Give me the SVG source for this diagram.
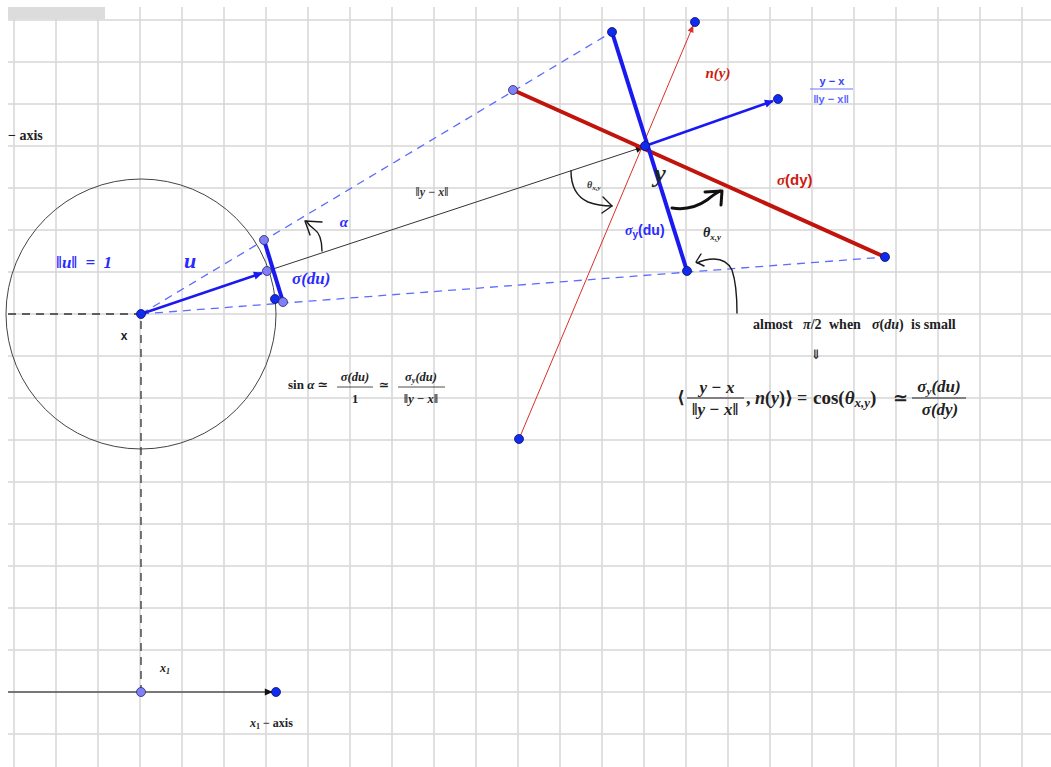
<svg xmlns="http://www.w3.org/2000/svg" width="1051" height="767" viewBox="0 0 1051 767">
<style>
.grid{stroke:#d6d6d6;stroke-width:1.5;fill:none}
.serif{font-family:"Liberation Serif","DejaVu Serif",serif;font-weight:bold}
.sans{font-family:"Liberation Sans","DejaVu Sans",sans-serif;font-weight:bold}
.it{font-style:italic}
.blue{fill:#2a2aff}
.red{fill:#cc1a10}
.blk{fill:#222}
.hand{fill:none;stroke:#1a1a1a;stroke-width:1.4;stroke-linecap:round;stroke-linejoin:round}
.dashb{stroke:#5c6cff;stroke-width:1.3;stroke-dasharray:8 6;fill:none}
.dashk{stroke:#333;stroke-width:1.3;stroke-dasharray:8 6;fill:none}
.ptd{fill:#0f2bf0;stroke:#101060;stroke-width:0.8}
.ptl{fill:#7f80f8;stroke:#2a2a60;stroke-width:0.8}
</style>
<defs>
<marker id="ab" viewBox="0 0 10 10" refX="9" refY="5" markerWidth="12" markerHeight="9" orient="auto" markerUnits="userSpaceOnUse"><path d="M0,0.5 L10,5 L0,9.5 z" fill="#1a1af0"/></marker>
<marker id="ak" viewBox="0 0 10 10" refX="9" refY="5" markerWidth="11" markerHeight="8" orient="auto" markerUnits="userSpaceOnUse"><path d="M0,0.5 L10,5 L0,9.5 z" fill="#111"/></marker>
<marker id="ar" viewBox="0 0 10 10" refX="9" refY="5" markerWidth="10" markerHeight="7" orient="auto" markerUnits="userSpaceOnUse"><path d="M0,0.5 L10,5 L0,9.5 z" fill="#d9302a"/></marker>
</defs>
<rect width="1051" height="767" fill="#fff"/>
<g id="grid">
<path class="grid" d="M14,7V767M56,7V767M98,7V767M140,7V767M182,7V767M224,7V767M266,7V767M308,7V767M350,7V767M392,7V767M434,7V767M476,7V767M518,7V767M560,7V767M602,7V767M644,7V767M686,7V767M728,7V767M770,7V767M812,7V767M854,7V767M896,7V767M938,7V767M980,7V767M1022,7V767"/>
<path class="grid" d="M8,20H1051M8,62H1051M8,104H1051M8,146H1051M8,188H1051M8,230H1051M8,272H1051M8,314H1051M8,356H1051M8,398H1051M8,440H1051M8,482H1051M8,524H1051M8,566H1051M8,608H1051M8,650H1051M8,692H1051M8,734H1051"/>
<rect x="8" y="7" width="97" height="12" fill="#dcdcdc"/>
</g>

<g id="connectors">
<circle cx="141" cy="314" r="135" fill="none" stroke="#444" stroke-width="1"/>
<path class="dashk" d="M8,314H141V692"/>
<path class="dashb" d="M141,314L612,32"/>
<path class="dashb" d="M141,314L885,257"/>
<line x1="267" y1="271" x2="643" y2="147" stroke="#333" stroke-width="1" marker-end="url(#ak)"/>
<line x1="141" y1="314" x2="262" y2="273" stroke="#1a1af0" stroke-width="2.6" marker-end="url(#ab)"/>
<line x1="264" y1="240" x2="283" y2="302" stroke="#1a1af0" stroke-width="4"/>
<line x1="519" y1="439" x2="693" y2="26" stroke="#d9302a" stroke-width="1" marker-end="url(#ar)"/>
<line x1="513" y1="90" x2="885" y2="257" stroke="#c0140c" stroke-width="4"/>
<line x1="612" y1="32" x2="687" y2="271" stroke="#1a1af0" stroke-width="4"/>
<line x1="645" y1="146" x2="773" y2="101" stroke="#1a1af0" stroke-width="2.6" marker-end="url(#ab)"/>
<line x1="8" y1="692" x2="272" y2="692" stroke="#111" stroke-width="1.2" marker-end="url(#ak)"/>
<path class="hand" d="M322,251C322,240 320,233 314,229C311,227 309,225 306,221"/>
<path class="hand" d="M310,235L305,221L322,222"/>
<path class="hand" d="M571,171C571,185 575,196 588,202C596,205 604,206 612,206"/>
<path class="hand" d="M603,197L612,206L602,213"/>
<path d="M672,208C685,210 697,207 707,200C712,196 716,193 720,191" fill="none" stroke="#111" stroke-width="3" stroke-linecap="round"/>
<path d="M705,192L722,191L721,205" fill="none" stroke="#111" stroke-width="3" stroke-linecap="round" stroke-linejoin="round"/>
<path class="hand" d="M737,313C737,298 736,282 732,270C728,262 722,259 714,259C707,259 701,261 697,263"/>
<path class="hand" d="M701,254L696,262L704,266"/>
</g>

<g id="node-x"><circle class="ptd" cx="141" cy="314" r="4.5"/><text class="sans blk" x="124" y="340" font-size="12" text-anchor="middle">x</text></g>
<g id="node-p1"><circle class="ptl" cx="264" cy="240" r="4.5"/></g>
<g id="node-p2"><circle class="ptl" cx="267" cy="271" r="4.5"/></g>
<g id="node-p3"><circle class="ptd" cx="275" cy="299" r="4.5"/></g>
<g id="node-p4"><circle class="ptl" cx="283" cy="302" r="4.5"/></g>
<g id="node-y"><circle class="ptd" cx="645" cy="146" r="4.5"/><text class="serif it blk" x="660" y="182" font-size="26" text-anchor="middle">y</text></g>
<g id="node-q1"><circle class="ptd" cx="612" cy="32" r="4.5"/></g>
<g id="node-q2"><circle class="ptd" cx="695" cy="22" r="4.5"/></g>
<g id="node-q3"><circle class="ptl" cx="513" cy="90" r="4.5"/></g>
<g id="node-q4"><circle class="ptd" cx="778" cy="99" r="4.5"/></g>
<g id="node-q5"><circle class="ptd" cx="687" cy="271" r="4.5"/></g>
<g id="node-q6"><circle class="ptd" cx="885" cy="257" r="4.5"/></g>
<g id="node-q7"><circle class="ptd" cx="519" cy="439" r="4.5"/></g>
<g id="node-x1"><circle class="ptl" cx="141" cy="692" r="4.5"/></g>
<g id="node-x1end"><circle class="ptd" cx="276" cy="692" r="4.5"/></g>

<g id="labels">
<text class="serif blk" x="8" y="140" font-size="14">− axis</text>
<text class="serif it blue" x="56" y="268" font-size="17" word-spacing="4">‖u‖ = 1</text>
<text class="serif it blue" x="190" y="268" font-size="22" text-anchor="middle">u</text>
<text class="serif it blue" x="344" y="227" font-size="15" text-anchor="middle">α</text>
<text class="serif it blue" x="292" y="284" font-size="17">σ(du)</text>
<text class="serif it" x="432" y="196" font-size="12" text-anchor="middle" fill="#333">‖y − x‖</text>

<text class="serif blk" x="288" y="389" font-size="13">sin <tspan class="it">α</tspan> ≃</text>
<text class="serif it blk" x="355" y="381" font-size="12.5" text-anchor="middle">σ(du)</text>
<line x1="337" y1="387" x2="373" y2="387" stroke="#222" stroke-width="0.8"/>
<text class="serif blk" x="355" y="403" font-size="12.5" text-anchor="middle">1</text>
<text class="serif blk" x="384" y="389" font-size="12.5" text-anchor="middle">≃</text>
<text class="serif it blk" x="421" y="381" font-size="12.5" text-anchor="middle">σ<tspan font-size="8" dy="2">y</tspan><tspan dy="-2">(du)</tspan></text>
<line x1="398" y1="387" x2="445" y2="387" stroke="#222" stroke-width="0.8"/>
<text class="serif it blk" x="421" y="403" font-size="12.5" text-anchor="middle">‖y − x‖</text>

<text class="serif it red" x="718" y="78" font-size="15" text-anchor="middle">n(y)</text>
<text class="sans" x="832" y="85" font-size="11" text-anchor="middle" fill="#3344ee">y − x</text>
<line x1="810" y1="89" x2="853" y2="89" stroke="#6677ff" stroke-width="1"/>
<text class="sans" x="831" y="103" font-size="11" text-anchor="middle" fill="#5566ff">‖y − x‖</text>
<text class="red" x="777" y="185" font-size="15"><tspan class="serif it">σ</tspan><tspan class="sans">(dy)</tspan></text>
<text class="blue" x="625" y="235" font-size="14"><tspan class="serif it">σ</tspan><tspan class="sans" font-size="10" dy="3">y</tspan><tspan class="sans" dy="-3">(du)</tspan></text>
<text class="serif it" x="587" y="188" font-size="10" fill="#333">θ<tspan font-size="7" dy="2">x,y</tspan></text>
<text class="serif it blk" x="703" y="237" font-size="14">θ<tspan font-size="9" dy="3">x,y</tspan></text>

<text class="serif blk" font-size="14" y="329"><tspan x="753">almost</tspan><tspan x="803" class="it">π</tspan><tspan>/2</tspan><tspan x="829">when</tspan><tspan x="872" class="it">σ</tspan><tspan>(</tspan><tspan class="it">du</tspan><tspan>)</tspan><tspan x="911">is small</tspan></text>
<text class="serif blk" x="816" y="359" font-size="13" text-anchor="middle">⇓</text>

<text class="serif blk" x="677" y="403" font-size="17">⟨</text>
<text class="serif it blk" x="717" y="393" font-size="17" text-anchor="middle">y − x</text>
<line x1="687" y1="398" x2="744" y2="398" stroke="#222" stroke-width="1"/>
<text class="serif it blk" x="715" y="415" font-size="17" text-anchor="middle">‖y − x‖</text>
<text class="serif blk" font-size="18" y="404"><tspan x="746">, </tspan><tspan class="it">n</tspan><tspan>(</tspan><tspan class="it">y</tspan><tspan>)⟩</tspan><tspan x="797">=</tspan><tspan x="813" font-size="19">cos(</tspan><tspan class="it" font-size="19">θ</tspan><tspan class="it" font-size="13" dy="3">x,y</tspan><tspan dy="-3" font-size="19">)</tspan><tspan x="893">≃</tspan></text>
<text class="serif it blk" x="939" y="392" font-size="17" text-anchor="middle">σ<tspan font-size="11" dy="3">y</tspan><tspan dy="-3">(du)</tspan></text>
<line x1="912" y1="398" x2="966" y2="398" stroke="#222" stroke-width="1"/>
<text class="serif it blk" x="940" y="415" font-size="17" text-anchor="middle">σ(dy)</text>

<text class="serif it blk" x="160" y="672" font-size="12">x<tspan font-size="8" dy="2">1</tspan></text>
<text class="serif blk" x="250" y="727" font-size="12"><tspan class="it">x</tspan><tspan font-size="8" dy="2">1</tspan><tspan dy="-2"> − axis</tspan></text>
</g>
</svg>
